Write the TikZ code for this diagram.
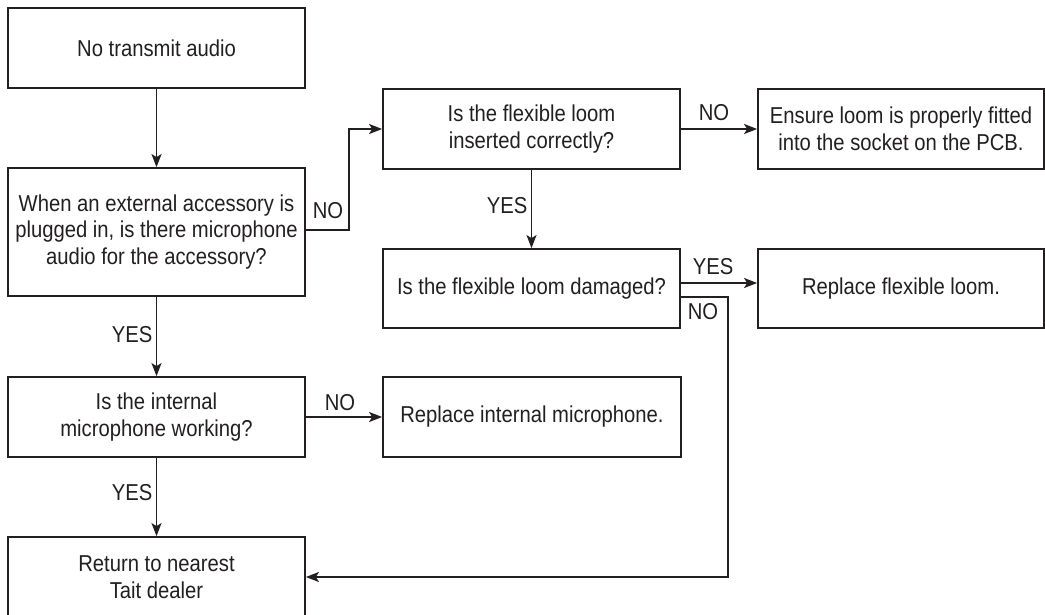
\documentclass[tikz,border=0pt]{standalone}
\usepackage{fontspec}
\setmainfont{Liberation Sans}[FakeStretch=0.88]
\usetikzlibrary{arrows.meta}
\definecolor{ink}{HTML}{231F20}

\begin{document}
\begin{tikzpicture}[x=1pt, y=-1pt,
        box/.style={draw=ink, line width=1.8pt, text=ink, align=center,
            minimum width=297pt, minimum height=80pt, inner sep=2pt,
            font=\fontsize{23}{26.5}\selectfont},
        link/.style={draw=ink, line width=1.6pt, -{Stealth[length=13pt, width=10pt, inset=3pt]}},
        lbl/.style={text=ink, inner sep=0pt, font=\fontsize{23}{26.5}\selectfont}]
        \useasboundingbox (0, 0) rectangle (1045, 615);
        % left column
        \node[box] (start) at (156.5, 48) {No transmit audio};
        \node[box, minimum height=128pt] (accq) at (156.5, 232) {When an external accessory is\\plugged in, is there microphone\\audio for the accessory?};
        \node[box] (micq) at (156.5, 417) {Is the internal\\microphone working?};
        \node[box] (dealer) at (156.5, 577) {Return to nearest\\Tait dealer};
        % middle and right
        \node[box] (loomq) at (531.5, 129) {Is the flexible loom\\inserted correctly?};
        \node[box, minimum width=286pt] (ensure) at (901, 129) {Ensure loom is properly fitted\\into the socket on the PCB.};
        \node[box, minimum height=79pt] (damq) at (531.5, 288.5) {Is the flexible loom damaged?};
        \node[box, minimum width=286pt, minimum height=79pt] (replloom) at (901, 288.5) {Replace flexible loom.};
        \node[box, minimum width=298pt] (replmic) at (532, 417) {Replace internal microphone.};
        % connectors
        \draw[link] (start) -- (accq);
        \draw[link] ([yshift=2pt]accq.east) -- ++(43, 0) |- (loomq.west);
        \draw[link] (loomq) -- (damq);
        \draw[link] (loomq) -- (ensure);
        \draw[link] ([yshift=5.5pt]damq.east) -- ([yshift=5.5pt]replloom.west);
        \draw[link] ([yshift=-8.5pt]damq.east) -- ++(47, 0) |- (dealer.east);
        \draw[link] (accq) -- (micq);
        \draw[link] (micq) -- (replmic);
        \draw[link] (micq) -- (dealer);
        % answers
        \node[lbl] (no1) at (328, 211) {NO};
        \node[lbl] (yes1) at (507, 206) {YES};
        \node[lbl] (no2) at (714, 113) {NO};
        \node[lbl] (yes2) at (713, 267) {YES};
        \node[lbl] (no3) at (703, 312) {NO};
        \node[lbl] (yes3) at (132, 335) {YES};
        \node[lbl] (no4) at (340, 403) {NO};
        \node[lbl] (yes4) at (132, 493) {YES};
\end{tikzpicture}
\end{document}
